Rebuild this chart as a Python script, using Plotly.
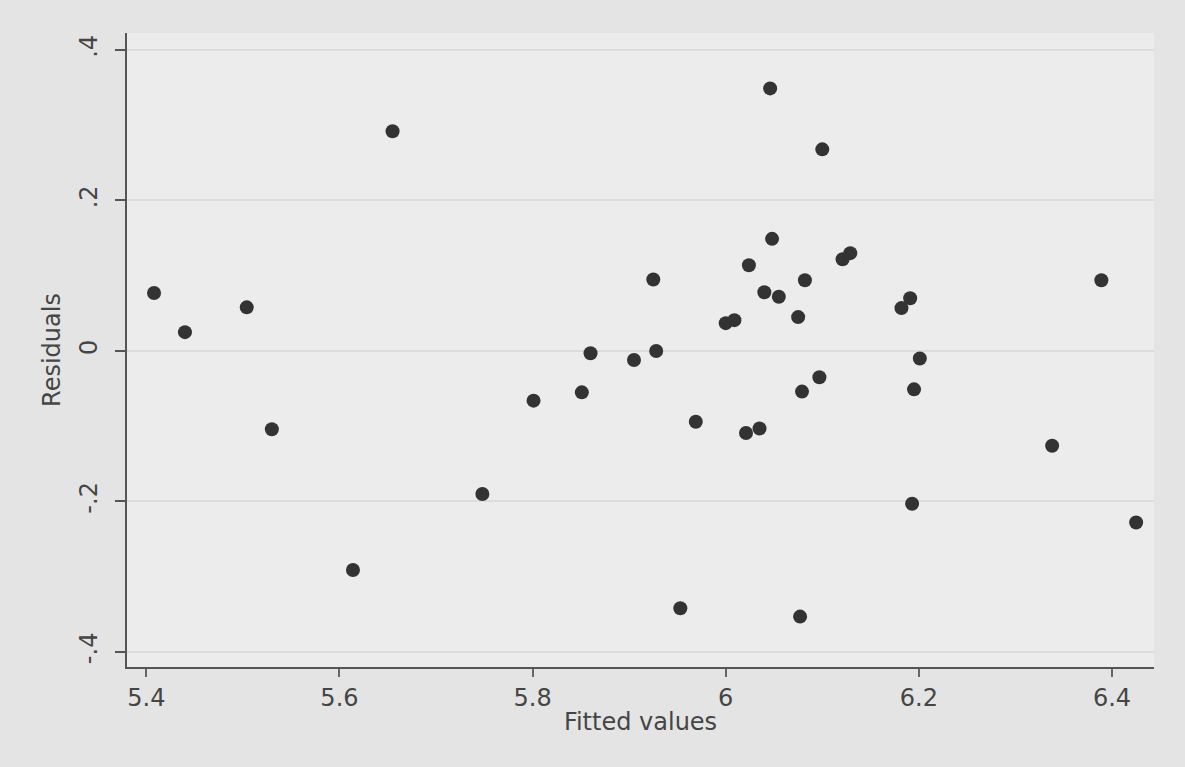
import plotly.graph_objects as go

fitted = [5.408, 5.440, 5.504, 5.655, 5.530, 5.614, 5.748, 5.801, 5.851, 5.860,
          5.905, 5.925, 5.928, 5.969, 5.953, 6.000, 6.009, 6.021, 6.035, 6.024,
          6.046, 6.048, 6.040, 6.055, 6.075, 6.082, 6.079, 6.077, 6.097, 6.100,
          6.121, 6.129, 6.182, 6.191, 6.195, 6.201, 6.193, 6.338, 6.389, 6.425]
residuals = [0.077, 0.025, 0.058, 0.292, -0.104, -0.291, -0.190, -0.066, -0.055, -0.003,
             -0.012, 0.095, 0.000, -0.094, -0.342, 0.037, 0.041, -0.109, -0.103, 0.114,
             0.349, 0.149, 0.078, 0.072, 0.045, 0.094, -0.054, -0.353, -0.035, 0.268,
             0.122, 0.130, 0.057, 0.070, -0.051, -0.010, -0.203, -0.126, 0.094, -0.228]

x_ticks = [5.4, 5.6, 5.8, 6.0, 6.2, 6.4]
x_tick_labels = ["5.4", "5.6", "5.8", "6", "6.2", "6.4"]
y_ticks = [-0.4, -0.2, 0.0, 0.2, 0.4]
y_tick_labels = ["-.4", "-.2", "0", ".2", ".4"]

FONT = "DejaVu Sans"
TXT = "#454545"

fig = go.Figure(go.Scatter(
    x=fitted, y=residuals, mode="markers",
    marker=dict(color="#333333", size=14, line=dict(width=0)),
    showlegend=False,
))

fig.update_layout(
    width=1185, height=767,
    margin=dict(l=127, r=31, t=33, b=100),
    paper_bgcolor="#e4e4e4",
    plot_bgcolor="#ececec",
    font=dict(family=FONT, size=24, color=TXT),
)
fig.update_xaxes(
    range=[5.380, 6.4435],
    tickvals=x_ticks, ticktext=x_tick_labels,
    showgrid=False, zeroline=False,
    showline=True, linecolor="#555555", linewidth=2,
    ticks="outside", ticklen=8, tickwidth=2, tickcolor="#666666",
    tickfont=dict(family=FONT, size=24, color=TXT),
    title=dict(text="Fitted values", font=dict(family=FONT, size=24, color=TXT), standoff=2),
)
fig.update_yaxes(
    range=[-0.42, 0.4226],
    tickvals=y_ticks, ticktext=y_tick_labels, tickangle=-90,
    showgrid=True, gridcolor="#dcdcdc", gridwidth=1.5, zeroline=False,
    showline=True, linecolor="#555555", linewidth=2,
    ticks="outside", ticklen=10, tickwidth=2, tickcolor="#555555",
    ticklabelstandoff=8,
    tickfont=dict(family=FONT, size=24, color=TXT),
    title=dict(text="Residuals", font=dict(family=FONT, size=24, color=TXT), standoff=8),
)

fig.write_html("out.html", config={"displayModeBar": False},
               post_script="document.body.style.margin='0';")
